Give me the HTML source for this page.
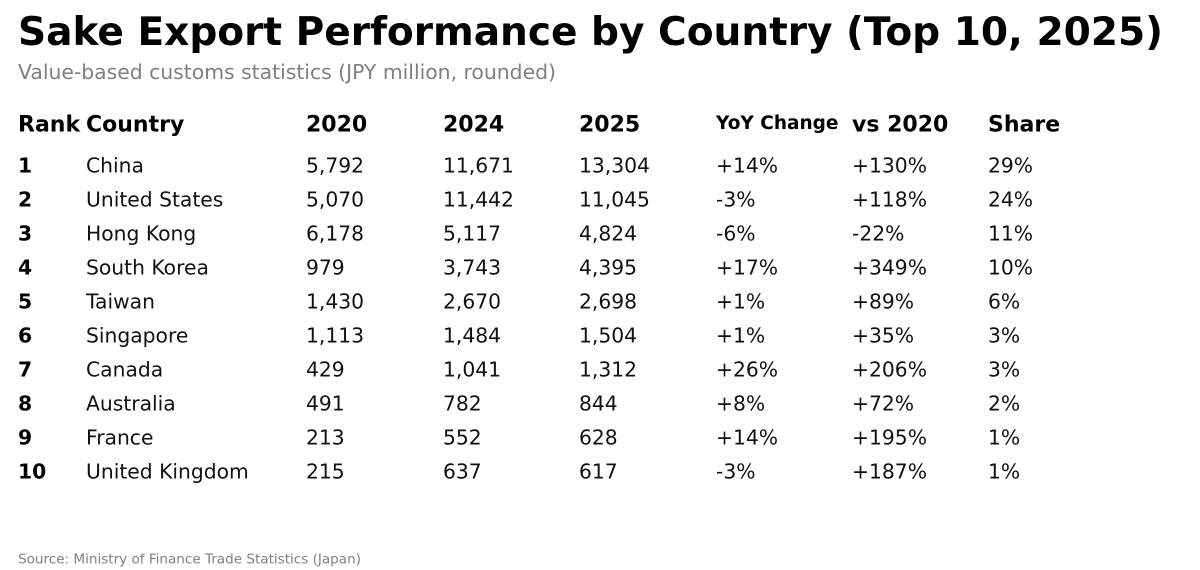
<!DOCTYPE html>
<html>
<head>
<meta charset="utf-8">
<style>
  html, body { margin: 0; padding: 0; background: #ffffff; }
  body { width: 1200px; height: 570px; overflow: hidden; }
  svg { display: block; }
  text { font-family: "DejaVu Sans", "Liberation Sans", sans-serif; }
  .t { font-size: 39.1px; font-weight: bold; fill: #000; }
  .sub { font-size: 20.4px; fill: #808080; }
  .h { font-size: 22px; font-weight: bold; fill: #000; }
  .hs { font-size: 18.5px; font-weight: bold; fill: #000; }
  .r { font-size: 20.3px; font-weight: bold; fill: #000; }
  .b { font-size: 20.3px; fill: #111; }
  .src { font-size: 13.6px; fill: #808080; }
</style>
</head>
<body>
<svg width="1200" height="570" viewBox="0 0 1200 570" xmlns="http://www.w3.org/2000/svg">
  <rect width="1200" height="570" fill="#ffffff"/>
  <text class="t" x="18" y="45" textLength="1145" lengthAdjust="spacing">Sake Export Performance by Country (Top 10, 2025)</text>
  <text class="sub" x="18" y="79" textLength="538" lengthAdjust="spacing">Value-based customs statistics (JPY million, rounded)</text>

  <g transform="translate(1,-0.5)">
  <text class="h" x="17" y="132">Rank</text>
  <text class="h" x="85" y="132">Country</text>
  <text class="h" x="305" y="132">2020</text>
  <text class="h" x="442" y="132">2024</text>
  <text class="h" x="578" y="132">2025</text>
  <text class="hs" x="715" y="129.5">YoY Change</text>
  <text class="h" x="851" y="132">vs 2020</text>
  <text class="h" x="987" y="132">Share</text>

  <g>
    <text class="r" x="17" y="173">1</text>
    <text class="b" x="85" y="173">China</text>
    <text class="b" x="305" y="173">5,792</text>
    <text class="b" x="442" y="173">11,671</text>
    <text class="b" x="578" y="173">13,304</text>
    <text class="b" x="715" y="173">+14%</text>
    <text class="b" x="851" y="173">+130%</text>
    <text class="b" x="987" y="173">29%</text>
  </g>
  <g>
    <text class="r" x="17" y="207">2</text>
    <text class="b" x="85" y="207">United States</text>
    <text class="b" x="305" y="207">5,070</text>
    <text class="b" x="442" y="207">11,442</text>
    <text class="b" x="578" y="207">11,045</text>
    <text class="b" x="715" y="207">-3%</text>
    <text class="b" x="851" y="207">+118%</text>
    <text class="b" x="987" y="207">24%</text>
  </g>
  <g>
    <text class="r" x="17" y="241">3</text>
    <text class="b" x="85" y="241">Hong Kong</text>
    <text class="b" x="305" y="241">6,178</text>
    <text class="b" x="442" y="241">5,117</text>
    <text class="b" x="578" y="241">4,824</text>
    <text class="b" x="715" y="241">-6%</text>
    <text class="b" x="851" y="241">-22%</text>
    <text class="b" x="987" y="241">11%</text>
  </g>
  <g>
    <text class="r" x="17" y="275">4</text>
    <text class="b" x="85" y="275">South Korea</text>
    <text class="b" x="305" y="275">979</text>
    <text class="b" x="442" y="275">3,743</text>
    <text class="b" x="578" y="275">4,395</text>
    <text class="b" x="715" y="275">+17%</text>
    <text class="b" x="851" y="275">+349%</text>
    <text class="b" x="987" y="275">10%</text>
  </g>
  <g>
    <text class="r" x="17" y="309">5</text>
    <text class="b" x="85" y="309">Taiwan</text>
    <text class="b" x="305" y="309">1,430</text>
    <text class="b" x="442" y="309">2,670</text>
    <text class="b" x="578" y="309">2,698</text>
    <text class="b" x="715" y="309">+1%</text>
    <text class="b" x="851" y="309">+89%</text>
    <text class="b" x="987" y="309">6%</text>
  </g>
  <g>
    <text class="r" x="17" y="343">6</text>
    <text class="b" x="85" y="343">Singapore</text>
    <text class="b" x="305" y="343">1,113</text>
    <text class="b" x="442" y="343">1,484</text>
    <text class="b" x="578" y="343">1,504</text>
    <text class="b" x="715" y="343">+1%</text>
    <text class="b" x="851" y="343">+35%</text>
    <text class="b" x="987" y="343">3%</text>
  </g>
  <g>
    <text class="r" x="17" y="377">7</text>
    <text class="b" x="85" y="377">Canada</text>
    <text class="b" x="305" y="377">429</text>
    <text class="b" x="442" y="377">1,041</text>
    <text class="b" x="578" y="377">1,312</text>
    <text class="b" x="715" y="377">+26%</text>
    <text class="b" x="851" y="377">+206%</text>
    <text class="b" x="987" y="377">3%</text>
  </g>
  <g>
    <text class="r" x="17" y="411">8</text>
    <text class="b" x="85" y="411">Australia</text>
    <text class="b" x="305" y="411">491</text>
    <text class="b" x="442" y="411">782</text>
    <text class="b" x="578" y="411">844</text>
    <text class="b" x="715" y="411">+8%</text>
    <text class="b" x="851" y="411">+72%</text>
    <text class="b" x="987" y="411">2%</text>
  </g>
  <g>
    <text class="r" x="17" y="445">9</text>
    <text class="b" x="85" y="445">France</text>
    <text class="b" x="305" y="445">213</text>
    <text class="b" x="442" y="445">552</text>
    <text class="b" x="578" y="445">628</text>
    <text class="b" x="715" y="445">+14%</text>
    <text class="b" x="851" y="445">+195%</text>
    <text class="b" x="987" y="445">1%</text>
  </g>
  <g>
    <text class="r" x="17" y="479">10</text>
    <text class="b" x="85" y="479">United Kingdom</text>
    <text class="b" x="305" y="479">215</text>
    <text class="b" x="442" y="479">637</text>
    <text class="b" x="578" y="479">617</text>
    <text class="b" x="715" y="479">-3%</text>
    <text class="b" x="851" y="479">+187%</text>
    <text class="b" x="987" y="479">1%</text>
  </g>
  </g>

  <text class="src" x="18" y="563.5" textLength="343" lengthAdjust="spacing">Source: Ministry of Finance Trade Statistics (Japan)</text>
</svg>
</body>
</html>
